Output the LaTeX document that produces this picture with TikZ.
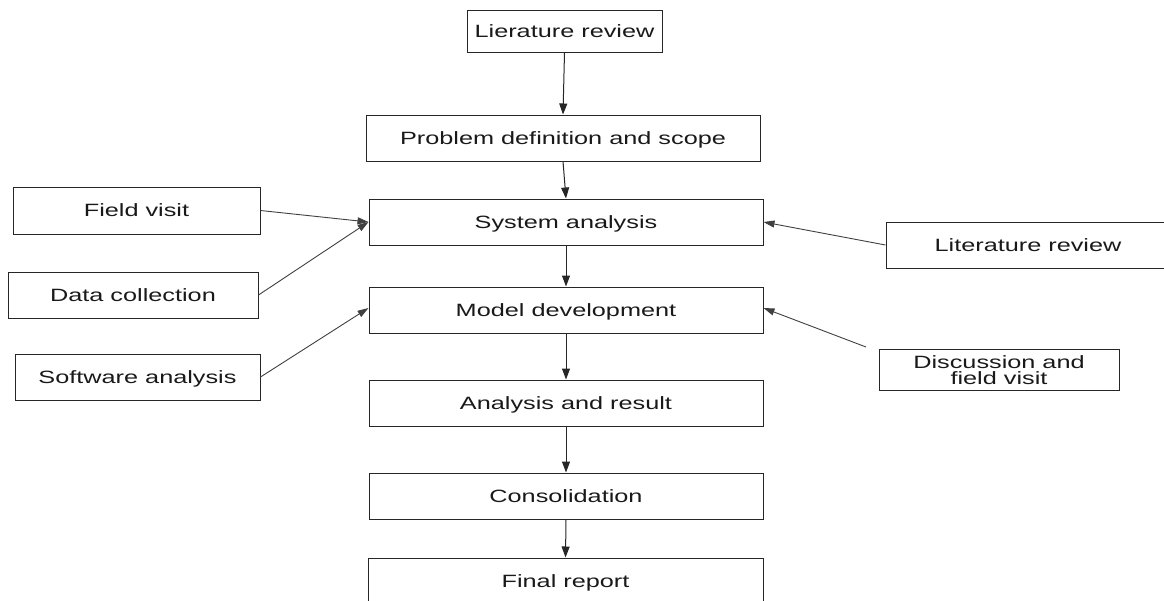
\documentclass[tikz,border=0pt]{standalone}
\usepackage{fontspec}
\setmainfont{Liberation Sans}[FakeStretch=1.42]
\usetikzlibrary{arrows.meta}
\begin{document}
\begin{tikzpicture}[x=1pt,y=-1pt,
  box/.style={draw=black!85,line width=1pt,rectangle,inner sep=0pt,
    font=\fontsize{17.8}{16}\selectfont,text=black!90,align=center},
  one/.style={box,text height=12.5pt,text depth=0pt},
  flow/.style={draw=black!85,line width=1pt,-{Triangle[length=11pt,width=8pt]}},
  feed/.style={draw=black!75,line width=0.9pt,-{Triangle[length=11pt,width=7pt]}}]
\useasboundingbox (0,0) rectangle (1164,600);

% main sequence
\node[one,minimum width=195,minimum height=42] (lit) at (564.5,31) {Lierature review};
\node[one,minimum width=394,minimum height=46] (prob) at (563,138) {Problem definition and scope};
\node[one,minimum width=394,minimum height=46] (sys) at (566,222) {System analysis};
\node[one,minimum width=394,minimum height=46] (model) at (566,310) {Model development};
\node[one,minimum width=394,minimum height=46] (res) at (566,403) {Analysis and result};
\node[one,minimum width=394,minimum height=46] (cons) at (566,496) {Consolidation};
\node[one,minimum width=395,minimum height=46] (final) at (565.5,581) {Final report};

% inputs on the left
\node[one,minimum width=247,minimum height=47] (field) at (136.5,210.5) {Field visit};
\node[one,minimum width=250,minimum height=46] (data) at (133,295) {Data collection};
\node[one,minimum width=245,minimum height=46] (soft) at (137.5,377) {Software analysis};

% inputs on the right
\node[one,minimum width=284,minimum height=46] (litr) at (1028,245) {Literature review};
\node[box,minimum width=240,minimum height=41] (disc) at (999,370) {Discussion and\\field visit};
\coordinate (discend) at (866,347);

% connectors
\draw[flow] (lit.south) -- (prob.north);
\draw[flow] (prob.south) -- (sys.north);
\draw[flow] (sys.south) -- (model.north);
\draw[flow] (model.south) -- (res.north);
\draw[flow] (res.south) -- (cons.north);
\draw[flow] (cons.south) -- (final.north);

\draw[feed] (field.east) -- (sys.west);
\draw[feed] (data.east) -- (sys.west);
\draw[feed] (soft.east) -- ([yshift=2pt]model.west);
\draw[feed] (litr.west) -- (sys.east);
\draw[feed] (discend) -- ([yshift=2pt]model.east);
\end{tikzpicture}
\end{document}
